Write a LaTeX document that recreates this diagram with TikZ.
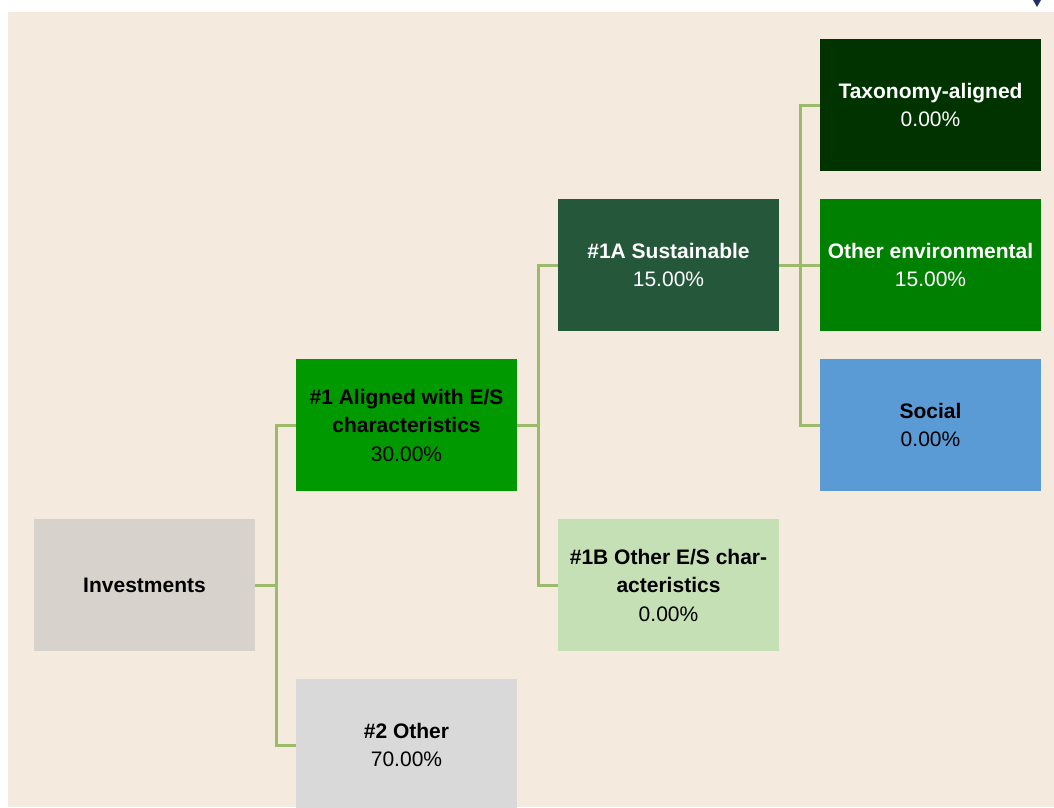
\documentclass[tikz,border=0pt]{standalone}
\usepackage{fontspec}
\setmainfont{Liberation Sans}
\usetikzlibrary{trees}
\definecolor{paper}{HTML}{F4EBDE}
\definecolor{linegreen}{HTML}{9BBB6A}
\definecolor{investgray}{HTML}{D7D2CB}
\definecolor{othergray}{HTML}{D9D9D9}
\definecolor{alignedgreen}{HTML}{009900}
\definecolor{sustaingreen}{HTML}{25573B}
\definecolor{palegreen}{HTML}{C5E0B4}
\definecolor{taxogreen}{HTML}{003300}
\definecolor{envgreen}{HTML}{008000}
\definecolor{socialblue}{HTML}{5B9BD5}
\definecolor{navymark}{HTML}{1F3262}
\tikzset{
    box/.style={minimum width=221pt, minimum height=132pt, inner sep=0pt,
        align=center, font=\fontsize{21}{28.5}\selectfont},
    darkbox/.style={box, fill=#1, text=white},
    lightbox/.style={box, fill=#1, text=black}
}
\begin{document}
\begin{tikzpicture}[
    x=1pt, y=-1pt,
    grow'=right,
    level distance=262pt,
    level 1/.style={sibling distance=320pt},
    level 2/.style={sibling distance=320pt},
    level 3/.style={sibling distance=160pt},
    edge from parent/.style={draw=linegreen, line width=3pt},
    edge from parent path={(\tikzparentnode.east) -- ++(21pt,0) |- (\tikzchildnode.west)}
]
\useasboundingbox (0,0) rectangle (1054,807);
\fill[paper] (8,12) rectangle (1054,807);
\fill[navymark] (1033,0) -- (1041,0) -- (1037,7) -- cycle;

\node[lightbox=investgray] (invest) at (144.5,585) {\textbf{Investments}}
    child {node[darkbox=alignedgreen, text=black] (aligned) {\textbf{\#1 Aligned with E/S}\\\textbf{characteristics}\\30.00\%}
        child {node[darkbox=sustaingreen] (sustain) {\textbf{\#1A Sustainable}\\15.00\%}
            child {node[darkbox=taxogreen] (taxo) {\textbf{Taxonomy-aligned}\\0.00\%}}
            child {node[darkbox=envgreen] (otherenv) {\textbf{Other environmental}\\15.00\%}}
            child {node[lightbox=socialblue] (social) {\textbf{Social}\\0.00\%}}
        }
        child {node[lightbox=palegreen] (otheres) {\textbf{\#1B Other E/S char-}\\\textbf{acteristics}\\0.00\%}}
    }
    child {node[lightbox=othergray] (other) {\textbf{\#2 Other}\\70.00\%}};
\end{tikzpicture}
\end{document}
